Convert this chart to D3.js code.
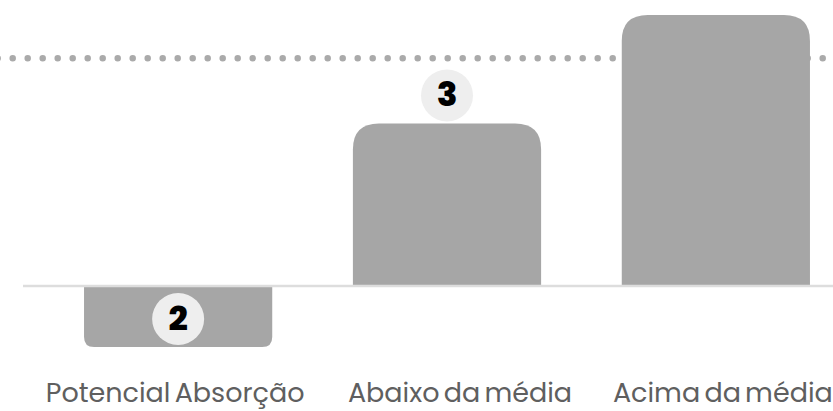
<!DOCTYPE html>
<html>
<head>
<meta charset="utf-8">
<script src="https://cdn.jsdelivr.net/npm/d3@7"></script>
<style>
  html, body { margin: 0; padding: 0; background: #fff; overflow: hidden; }
  svg { display: block; }
</style>
</head>
<body>
<svg id="chart" width="833" height="411"></svg>
<script>
// Categories, bar values, badge numbers and the reference level
const categories = ["Potencial Absorção", "Abaixo da média", "Acima da média"];
const values = [-22.5, 60, 100];
const badges = [2, 3, null];
const referenceLevel = [84];

const width = 833, height = 411;
const svg = d3.select("#chart");

const x = d3.scaleBand()
  .domain(categories)
  .range([23, 871])
  .paddingInner(0.3)
  .paddingOuter(0.227);

const y = d3.scaleLinear()
  .domain([-30, 100])
  .range([367.3, 15]);

const barColor = "#a6a6a6";

// Dotted reference line (drawn first so bars sit over it)
svg.append("g").selectAll("line")
  .data(referenceLevel)
  .join("line")
  .attr("x1", -2.3)
  .attr("x2", width + 20)
  .attr("y1", d => y(d))
  .attr("y2", d => y(d))
  .attr("stroke", "#aaaaaa")
  .attr("stroke-width", 6.5)
  .attr("stroke-linecap", "round")
  .attr("stroke-dasharray", "0 15");

// Bars with rounded corners on the end away from zero
function barPath(d, i) {
  const x0 = x(categories[i]);
  const w = x.bandwidth();
  const y0 = y(0);
  const y1 = y(d);
  const h = Math.abs(y1 - y0);
  const r = Math.min(26, h * 0.165);
  if (d >= 0) {
    return `M${x0},${y0} V${y1 + r} Q${x0},${y1} ${x0 + r},${y1} H${x0 + w - r} Q${x0 + w},${y1} ${x0 + w},${y1 + r} V${y0} Z`;
  }
  return `M${x0},${y0} V${y1 - r} Q${x0},${y1} ${x0 + r},${y1} H${x0 + w - r} Q${x0 + w},${y1} ${x0 + w},${y1 - r} V${y0} Z`;
}

svg.append("g").selectAll("path")
  .data(values)
  .join("path")
  .attr("d", barPath)
  .attr("fill", barColor);

// Zero line
svg.append("line")
  .attr("x1", 23)
  .attr("x2", width)
  .attr("y1", y(0))
  .attr("y2", y(0))
  .attr("stroke", "#dddddd")
  .attr("stroke-width", 2.7);

// Number badges near the end of each bar
const badgeData = values.map((v, i) => ({ v, b: badges[i], c: categories[i] }))
  .filter(d => d.b !== null);

const badge = svg.append("g").selectAll("g")
  .data(badgeData)
  .join("g")
  .attr("transform", d => `translate(${x(d.c) + x.bandwidth() / 2},${y(d.v) - 28})`);

badge.append("circle")
  .attr("r", 26)
  .attr("fill", "#eeeeee");

badge.append("text")
  .attr("text-anchor", "middle")
  .attr("dy", "0.35em")
  .attr("y", -1)
  .style("font-family", "Poppins, Lato, sans-serif")
  .style("font-weight", 800)
  .style("font-size", "34px")
  .attr("fill", "#000")
  .text(d => d.b);

// Category labels, nudged slightly from the band centres
const labelShift = [-3, 13, 7];
svg.append("g").selectAll("text")
  .data(categories)
  .join("text")
  .attr("x", (d, i) => x(d) + x.bandwidth() / 2 + labelShift[i])
  .attr("y", 402)
  .attr("text-anchor", "middle")
  .style("font-family", "Poppins, Lato, sans-serif")
  .style("font-size", "27px")
  .style("word-spacing", "-3px")
  .attr("fill", "#5f5f5f")
  .text(d => d);
</script>
</body>
</html>
